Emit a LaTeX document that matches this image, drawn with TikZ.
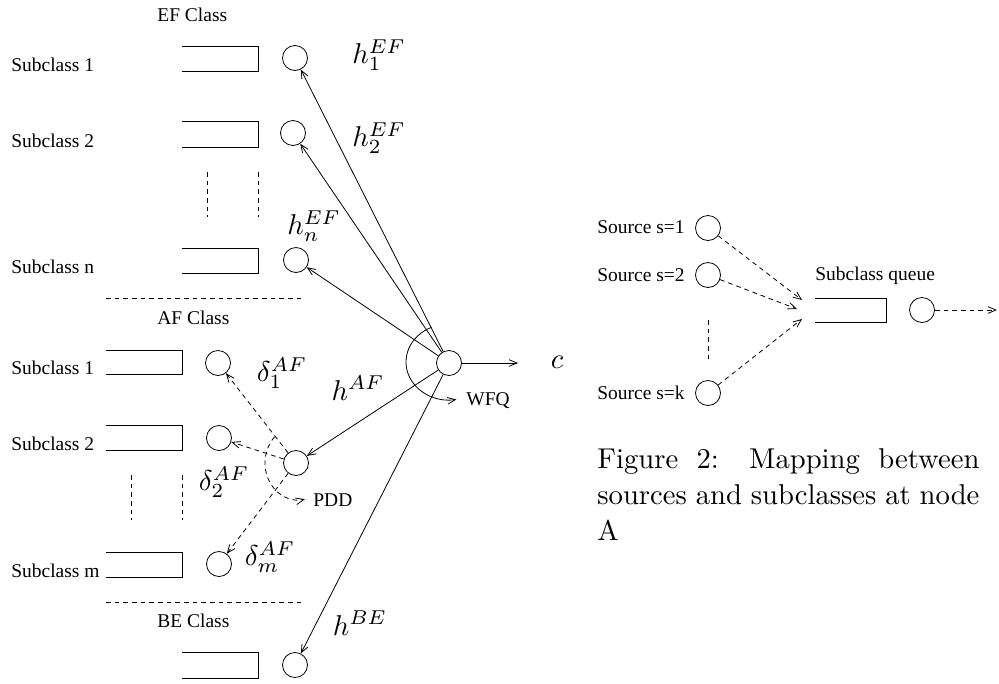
\documentclass[tikz,border=0pt]{standalone}
\usepackage{fontspec}
\usepackage{graphicx}
\newfontfamily\tms{Liberation Serif}
\usetikzlibrary{arrows.meta}
\newcommand\mlab[1]{\scalebox{2.15}{$#1$}}
\newcommand\clab[1]{\scalebox{2.15}{\makebox[133.26pt][s]{#1}}}
\begin{document}
\begin{tikzpicture}[x=0.75pt,y=-0.75pt,line width=0.6pt,
  srv/.style={circle,draw,minimum size=18.75pt,inner sep=0pt},
  lbl/.style={anchor=base west,inner sep=0pt,font=\tms\fontsize{14.6}{17}\selectfont},
  mlbl/.style={inner sep=0pt},
  captxt/.style={anchor=base west,inner sep=0pt,font=\fontsize{10}{12}\selectfont},
  arr/.style={-{Straight Barb[length=6pt,width=5pt]}},
  dsh/.style={dash pattern=on 3.5pt off 3pt}]
\useasboundingbox (0,0) rectangle (999,683);

% ---------- class titles and subclass labels ----------
\node[lbl] (tEF) at (157,21) {EF Class};
\node[lbl] (tAF) at (157,324) {AF Class};
\node[lbl] (tBE) at (157,627) {BE Class};
\node[lbl] (lE1) at (11,71) {Subclass 1};
\node[lbl] (lE2) at (11,147) {Subclass 2};
\node[lbl] (lEn) at (11,273) {Subclass n};
\node[lbl] (lA1) at (11,374) {Subclass 1};
\node[lbl] (lA2) at (11,450) {Subclass 2};
\node[lbl] (lAm) at (11,577) {Subclass m};

% ---------- queues ----------
\draw (182,46) -- (258,46) -- (258,71) -- (182,71);
\draw (182,121) -- (258,121) -- (258,147) -- (182,147);
\draw (182,248) -- (258,248) -- (258,273) -- (182,273);
\draw (106,350) -- (182,350) -- (182,374) -- (106,374);
\draw (106,425) -- (182,425) -- (182,450) -- (106,450);
\draw (106,552) -- (182,552) -- (182,577) -- (106,577);
\draw (182,652) -- (258,652) -- (258,678) -- (182,678);

% dashed continuation marks and separators
\draw[dsh] (207,172) -- (207,217);
\draw[dsh] (258,172) -- (258,217);
\draw[dsh] (131,475) -- (131,520);
\draw[dsh] (182,475) -- (182,520);
\draw[dsh] (106,298) -- (303,298);
\draw[dsh] (106,602) -- (303,602);

% ---------- servers ----------
\node[srv] (ef1) at (295,58) {};
\node[srv] (ef2) at (293,133) {};
\node[srv] (efn) at (296,260) {};
\node[srv] (af1) at (218,363) {};
\node[srv] (af2) at (219,438) {};
\node[srv] (afm) at (219,564) {};
\node[srv] (be) at (295,665) {};
\node[srv] (pdd) at (296,463) {};
\node[srv] (main) at (449,363) {};

% ---------- connectors from WFQ node ----------
\draw[arr] (main) -- (ef1);
\draw[arr] (main) -- (ef2);
\draw[arr] (main) -- (efn);
\draw[arr] (main) -- (pdd);
\draw[arr] (main) -- (be);
\coordinate (cout) at (518,363);
\draw[arr] (main) -- (cout);
\draw[arr] (449,362) ++(246:43 and 38) arc[start angle=246,end angle=80,x radius=43,y radius=38];
\node[lbl] (wfq) at (466,405) {WFQ};

% ---------- PDD connectors ----------
\draw[arr,dsh] (pdd) -- (af1);
\draw[arr,dsh] (pdd) -- (af2);
\draw[arr,dsh] (pdd) -- (afm);
\draw[arr,dsh] (298,463) ++(225:33 and 37) arc[start angle=225,end angle=78,x radius=33,y radius=37];
\node[lbl] (pddl) at (313,506) {PDD};

% ---------- math labels ----------
\node[mlbl] (h1) at (379,55) {\mlab{h_1^{EF}}};
\node[mlbl] (h2) at (379,138) {\mlab{h_2^{EF}}};
\node[mlbl] (hn) at (314,226) {\mlab{h_n^{EF}}};
\node[mlbl] (haf) at (358,388) {\mlab{h^{AF}}};
\node[mlbl] (hbe) at (360,623) {\mlab{h^{BE}}};
\node[mlbl] (d1) at (282,373) {\mlab{\delta_1^{AF}}};
\node[mlbl] (d2) at (224,482) {\mlab{\delta_2^{AF}}};
\node[mlbl] (dm) at (270,557) {\mlab{\delta_m^{AF}}};
\node[mlbl] (cl) at (557,362) {\mlab{c}};

% ---------- Figure 2 part ----------
\node[lbl] (ls1) at (597,233) {Source s=1};
\node[lbl] (ls2) at (597,281) {Source s=2};
\node[lbl] (lsk) at (597,399) {Source s=k};
\node[lbl] (lq) at (815,280) {Subclass queue};
\node[srv] (src1) at (708,228) {};
\node[srv] (src2) at (708,275) {};
\node[srv] (srck) at (708,393) {};
\node[srv] (qs) at (922,310) {};
\draw[dsh] (708,320) -- (708,363);
\draw (815,298) -- (886,298) -- (886,322) -- (815,322);
\coordinate (t1) at (802,300);
\coordinate (t2) at (797,309);
\coordinate (t3) at (802,319);
\coordinate (qout) at (997,310);
\draw[arr,dsh] (src1) -- (t1);
\draw[arr,dsh] (src2) -- (t2);
\draw[arr,dsh] (srck) -- (t3);
\draw[arr,dsh] (qs) -- (qout);

\node[captxt] (c1) at (597,468) {\clab{Figure 2: Mapping between}};
\node[captxt] (c2) at (597,504) {\clab{sources and subclasses at node}};
\node[captxt] (c3) at (597,540) {\scalebox{2.15}{A}};
\end{tikzpicture}
\end{document}
